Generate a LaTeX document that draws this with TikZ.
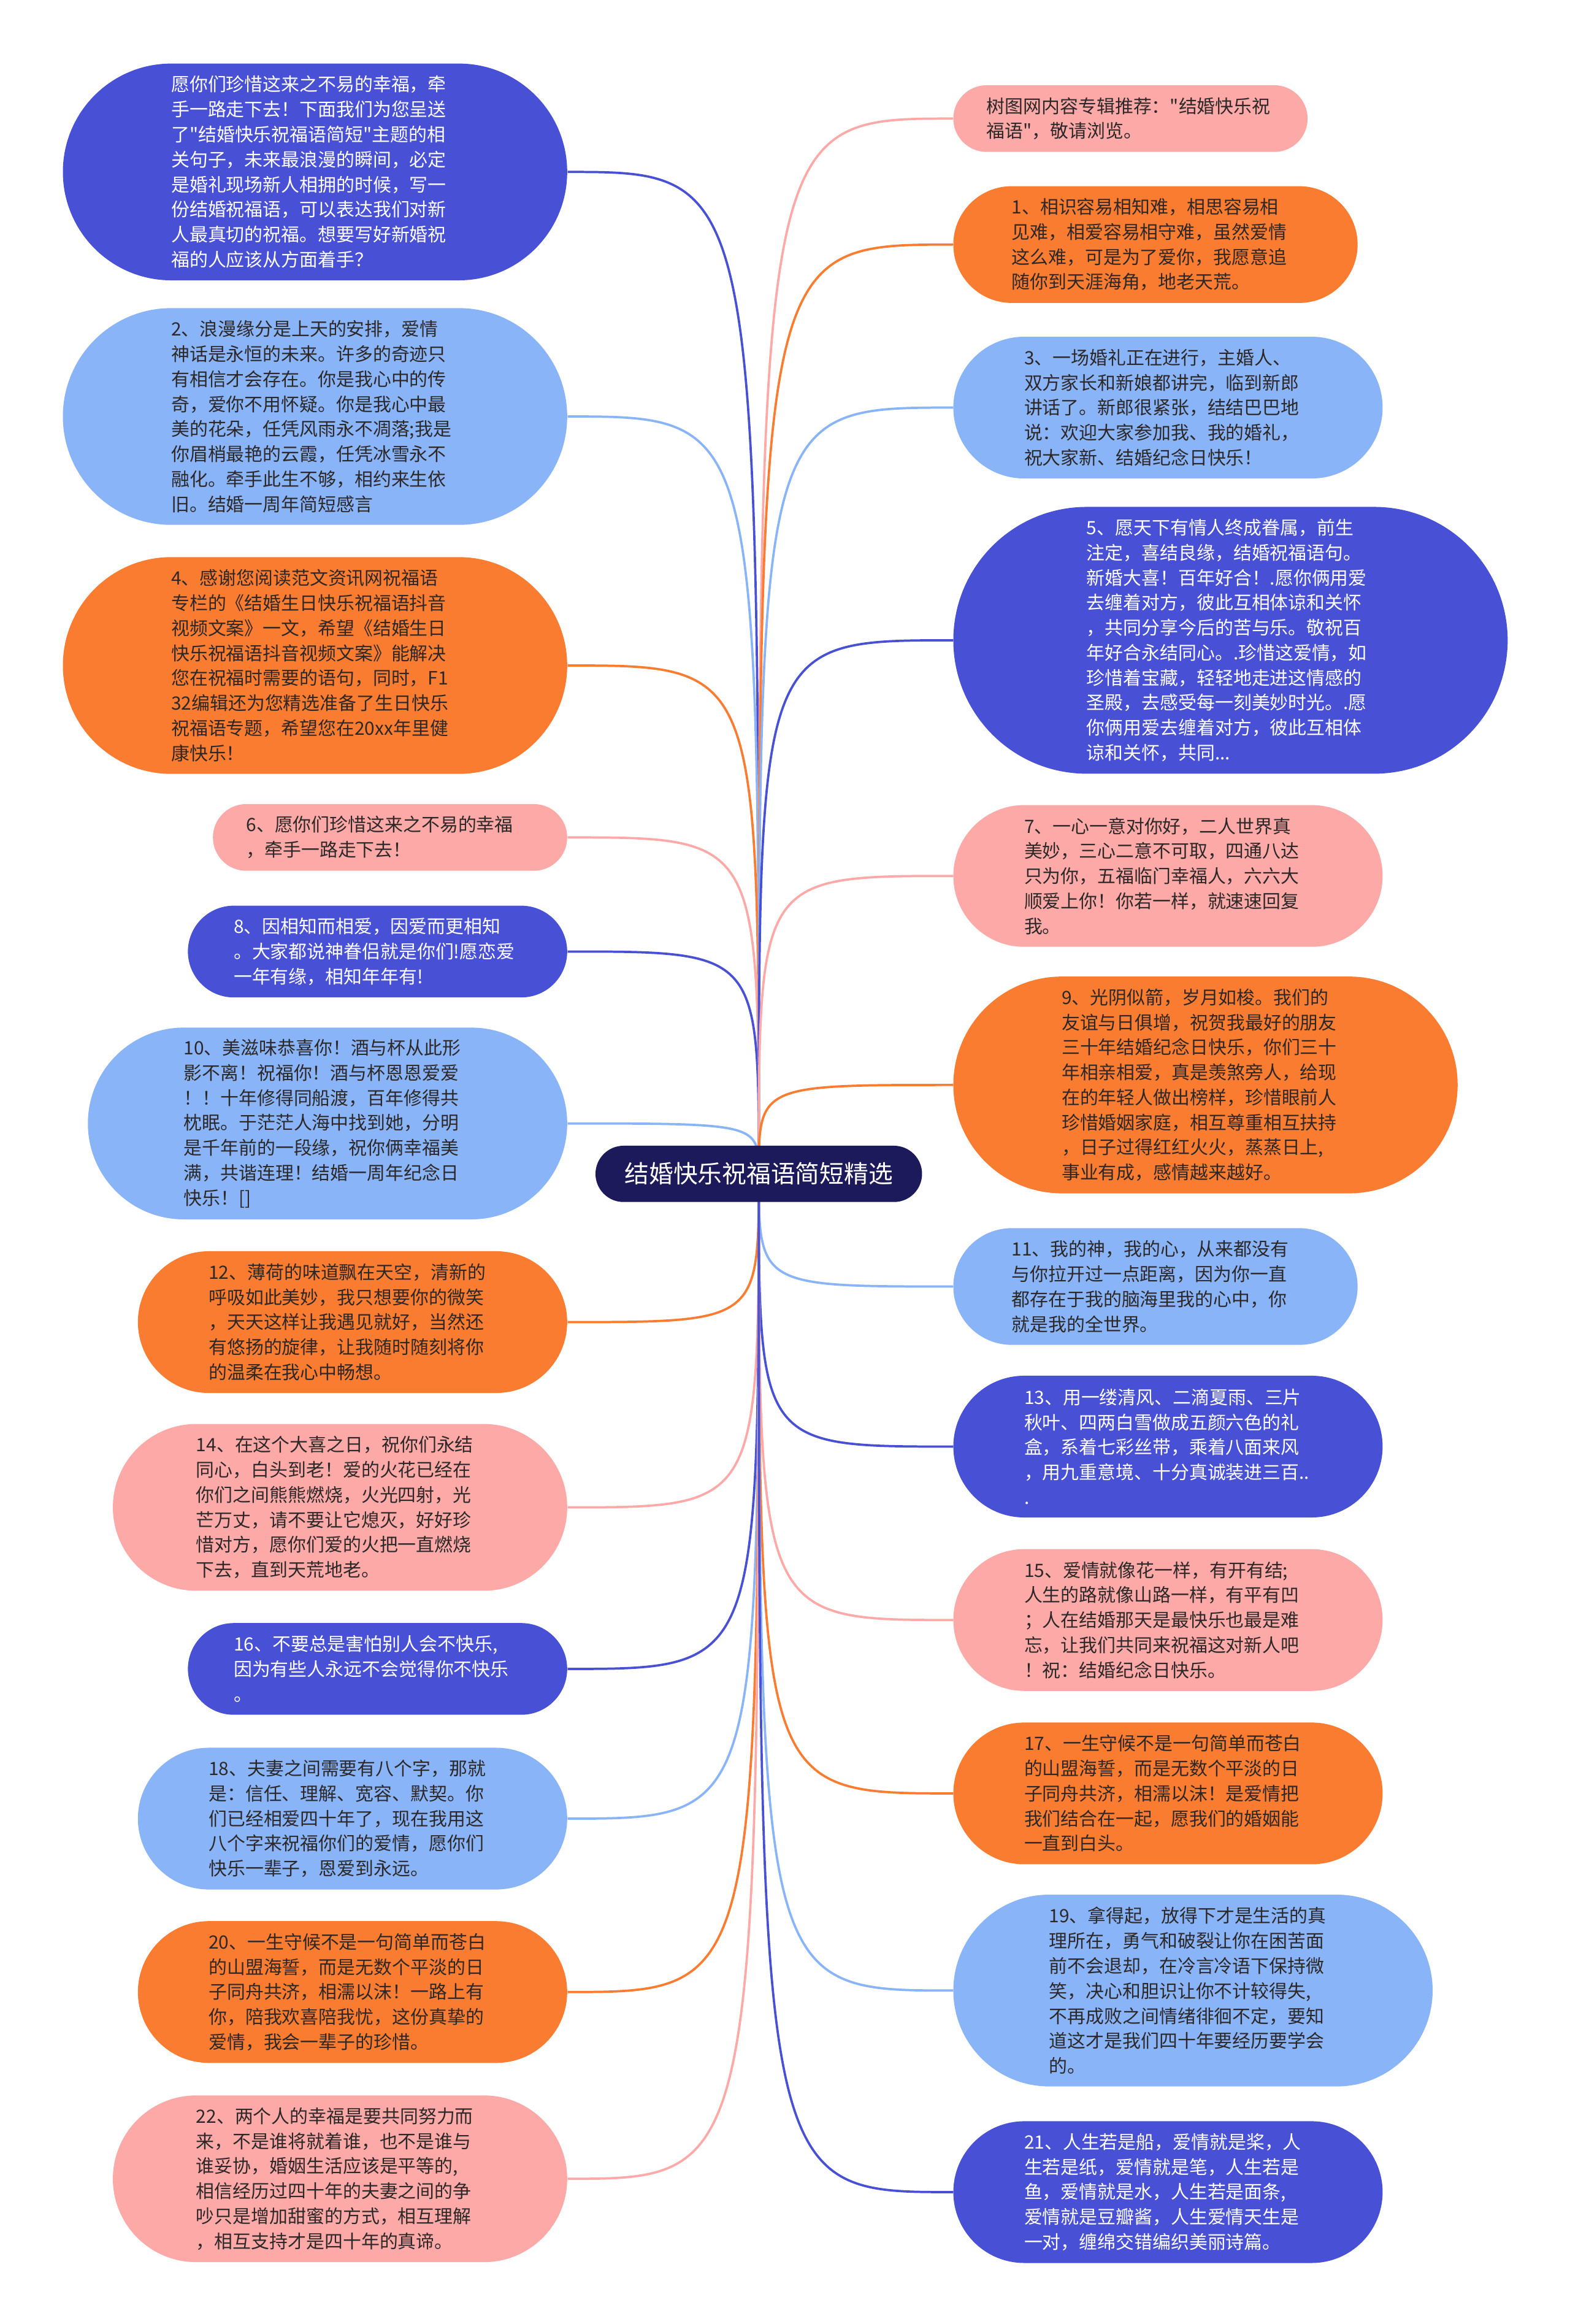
\documentclass[tikz,border=0pt]{standalone}
\usepackage{fontspec}
\setmainfont{Noto Sans CJK SC}[Ligatures=TeXOff]
\usetikzlibrary{backgrounds}

\definecolor{raizfondo}{RGB}{28,26,90}
\definecolor{azuloscuro}{RGB}{72,80,214}
\definecolor{azulclaro}{RGB}{138,180,248}
\definecolor{naranja}{RGB}{250,124,48}
\definecolor{rosa}{RGB}{252,169,168}
\definecolor{texto}{RGB}{45,40,40}

\begin{document}
\begin{tikzpicture}[x=0.025cm,y=-0.025cm,
		caja/.style={rectangle, text width=4.85cm, align=left,
			minimum height={(#1-1)*12pt+20pt}, inner ysep=0pt,
			inner xsep={(#1-1)*6pt+10pt}, rounded corners={(#1-1)*6pt+10pt},
			text=texto, font=\fontsize{8.8}{12}\selectfont},
		oscura/.style={caja=#1, fill=azuloscuro, text=white},
		clara/.style={caja=#1, fill=azulclaro},
		naranjada/.style={caja=#1, fill=naranja},
		rosada/.style={caja=#1, fill=rosa},
		rama/.style={line width=1.1pt}]
		
		% Nodo central
		\node[fill=raizfondo, text=white, minimum height=27pt, inner ysep=0pt,
			inner xsep=14pt, rounded corners=13.5pt,
			font=\fontsize{11.7}{14}\selectfont] (raiz) at (512,792) {结婚快乐祝福语简短精选};
		
		% Rama izquierda
		\node[oscura=8, anchor=east] (i1) at (383,116) {愿你们珍惜这来之不易的幸福，牵\\手一路走下去！下面我们为您呈送\\了"结婚快乐祝福语简短"主题的相\\关句子，未来最浪漫的瞬间，必定\\是婚礼现场新人相拥的时候，写一\\份结婚祝福语，可以表达我们对新\\人最真切的祝福。想要写好新婚祝\\福的人应该从方面着手？};
		\node[clara=8, anchor=east] (i2) at (383,281) {2、浪漫缘分是上天的安排，爱情\\神话是永恒的未来。许多的奇迹只\\有相信才会存在。你是我心中的传\\奇，爱你不用怀疑。你是我心中最\\美的花朵，任凭风雨永不凋落;我是\\你眉梢最艳的云霞，任凭冰雪永不\\融化。牵手此生不够，相约来生依\\旧。结婚一周年简短感言};
		\node[naranjada=8, anchor=east] (i3) at (383,449) {4、感谢您阅读范文资讯网祝福语\\专栏的《结婚生日快乐祝福语抖音\\视频文案》一文，希望《结婚生日\\快乐祝福语抖音视频文案》能解决\\您在祝福时需要的语句，同时，F1\\32编辑还为您精选准备了生日快乐\\祝福语专题，希望您在20xx年里健\\康快乐！};
		\node[rosada=2, anchor=east] (i4) at (383,565) {6、愿你们珍惜这来之不易的幸福\\，牵手一路走下去！};
		\node[oscura=3, anchor=east] (i5) at (383,642) {8、因相知而相爱，因爱而更相知\\。大家都说神眷侣就是你们!愿恋爱\\一年有缘，相知年年有!};
		\node[clara=7, anchor=east] (i6) at (383,758) {10、美滋味恭喜你！酒与杯从此形\\影不离！祝福你！酒与杯恩恩爱爱\\！！十年修得同船渡，百年修得共\\枕眠。于茫茫人海中找到她，分明\\是千年前的一段缘，祝你俩幸福美\\满，共谐连理！结婚一周年纪念日\\快乐！[]};
		\node[naranjada=5, anchor=east] (i7) at (383,892) {12、薄荷的味道飘在天空，清新的\\呼吸如此美妙，我只想要你的微笑\\，天天这样让我遇见就好，当然还\\有悠扬的旋律，让我随时随刻将你\\的温柔在我心中畅想。};
		\node[rosada=6, anchor=east] (i8) at (383,1017) {14、在这个大喜之日，祝你们永结\\同心，白头到老！爱的火花已经在\\你们之间熊熊燃烧，火光四射，光\\芒万丈，请不要让它熄灭，好好珍\\惜对方，愿你们爱的火把一直燃烧\\下去，直到天荒地老。};
		\node[oscura=3, anchor=east] (i9) at (383,1126) {16、不要总是害怕别人会不快乐,\\因为有些人永远不会觉得你不快乐\\。};
		\node[clara=5, anchor=east] (i10) at (383,1227) {18、夫妻之间需要有八个字，那就\\是：信任、理解、宽容、默契。你\\们已经相爱四十年了，现在我用这\\八个字来祝福你们的爱情，愿你们\\快乐一辈子，恩爱到永远。};
		\node[naranjada=5, anchor=east] (i11) at (383,1344) {20、一生守候不是一句简单而苍白\\的山盟海誓，而是无数个平淡的日\\子同舟共济，相濡以沫！一路上有\\你，陪我欢喜陪我忧，这份真挚的\\爱情，我会一辈子的珍惜。};
		\node[rosada=6, anchor=east] (i12) at (383,1470) {22、两个人的幸福是要共同努力而\\来，不是谁将就着谁，也不是谁与\\谁妥协，婚姻生活应该是平等的,\\相信经历过四十年的夫妻之间的争\\吵只是增加甜蜜的方式，相互理解\\，相互支持才是四十年的真谛。};
		
		% Rama derecha
		\node[rosada=2, anchor=west] (d1) at (643,80) {树图网内容专辑推荐："结婚快乐祝\\福语"，敬请浏览。};
		\node[naranjada=4, anchor=west] (d2) at (643,165) {1、相识容易相知难，相思容易相\\见难，相爱容易相守难，虽然爱情\\这么难，可是为了爱你，我愿意追\\随你到天涯海角，地老天荒。};
		\node[clara=5, anchor=west] (d3) at (643,275) {3、一场婚礼正在进行，主婚人、\\双方家长和新娘都讲完，临到新郎\\讲话了。新郎很紧张，结结巴巴地\\说：欢迎大家参加我、我的婚礼，\\祝大家新、结婚纪念日快乐！};
		\node[oscura=10, anchor=west] (d4) at (643,432) {5、愿天下有情人终成眷属，前生\\注定，喜结良缘，结婚祝福语句。\\新婚大喜！百年好合！.愿你俩用爱\\去缠着对方，彼此互相体谅和关怀\\，共同分享今后的苦与乐。敬祝百\\年好合永结同心。.珍惜这爱情，如\\珍惜着宝藏，轻轻地走进这情感的\\圣殿，去感受每一刻美妙时光。.愿\\你俩用爱去缠着对方，彼此互相体\\谅和关怀，共同...};
		\node[rosada=5, anchor=west] (d5) at (643,591) {7、一心一意对你好，二人世界真\\美妙，三心二意不可取，四通八达\\只为你，五福临门幸福人，六六大\\顺爱上你！你若一样，就速速回复\\我。};
		\node[naranjada=8, anchor=west] (d6) at (643,732) {9、光阴似箭，岁月如梭。我们的\\友谊与日俱增，祝贺我最好的朋友\\三十年结婚纪念日快乐，你们三十\\年相亲相爱，真是羡煞旁人，给现\\在的年轻人做出榜样，珍惜眼前人\\珍惜婚姻家庭，相互尊重相互扶持\\，日子过得红红火火，蒸蒸日上,\\事业有成，感情越来越好。};
		\node[clara=4, anchor=west] (d7) at (643,868) {11、我的神，我的心，从来都没有\\与你拉开过一点距离，因为你一直\\都存在于我的脑海里我的心中，你\\就是我的全世界。};
		\node[oscura=5, anchor=west] (d8) at (643,976) {13、用一缕清风、二滴夏雨、三片\\秋叶、四两白雪做成五颜六色的礼\\盒，系着七彩丝带，乘着八面来风\\，用九重意境、十分真诚装进三百..\\.};
		\node[rosada=5, anchor=west] (d9) at (643,1093) {15、爱情就像花一样，有开有结;\\人生的路就像山路一样，有平有凹\\；人在结婚那天是最快乐也最是难\\忘，让我们共同来祝福这对新人吧\\！祝：结婚纪念日快乐。};
		\node[naranjada=5, anchor=west] (d10) at (643,1210) {17、一生守候不是一句简单而苍白\\的山盟海誓，而是无数个平淡的日\\子同舟共济，相濡以沫！是爱情把\\我们结合在一起，愿我们的婚姻能\\一直到白头。};
		\node[clara=7, anchor=west] (d11) at (643,1343) {19、拿得起，放得下才是生活的真\\理所在，勇气和破裂让你在困苦面\\前不会退却，在冷言冷语下保持微\\笑，决心和胆识让你不计较得失,\\不再成败之间情绪徘徊不定，要知\\道这才是我们四十年要经历要学会\\的。};
		\node[oscura=5, anchor=west] (d12) at (643,1479) {21、人生若是船，爱情就是桨，人\\生若是纸，爱情就是笔，人生若是\\鱼，爱情就是水，人生若是面条,\\爱情就是豆瓣酱，人生爱情天生是\\一对，缠绵交错编织美丽诗篇。};
		
		% Fondo y conectores
		\begin{pgfonlayer}{background}
			\fill[white] (0,0) rectangle (1059,1568);
			\draw[rama, azuloscuro] (raiz.center) .. controls (raiz.center |- i1.east) .. (i1.east);
			\draw[rama, azulclaro] (raiz.center) .. controls (raiz.center |- i2.east) .. (i2.east);
			\draw[rama, naranja] (raiz.center) .. controls (raiz.center |- i3.east) .. (i3.east);
			\draw[rama, rosa] (raiz.center) .. controls (raiz.center |- i4.east) .. (i4.east);
			\draw[rama, azuloscuro] (raiz.center) .. controls (raiz.center |- i5.east) .. (i5.east);
			\draw[rama, azulclaro] (raiz.center) .. controls (raiz.center |- i6.east) .. (i6.east);
			\draw[rama, naranja] (raiz.center) .. controls (raiz.center |- i7.east) .. (i7.east);
			\draw[rama, rosa] (raiz.center) .. controls (raiz.center |- i8.east) .. (i8.east);
			\draw[rama, azuloscuro] (raiz.center) .. controls (raiz.center |- i9.east) .. (i9.east);
			\draw[rama, azulclaro] (raiz.center) .. controls (raiz.center |- i10.east) .. (i10.east);
			\draw[rama, naranja] (raiz.center) .. controls (raiz.center |- i11.east) .. (i11.east);
			\draw[rama, rosa] (raiz.center) .. controls (raiz.center |- i12.east) .. (i12.east);
			\draw[rama, rosa] (raiz.center) .. controls (raiz.center |- d1.west) .. (d1.west);
			\draw[rama, naranja] (raiz.center) .. controls (raiz.center |- d2.west) .. (d2.west);
			\draw[rama, azulclaro] (raiz.center) .. controls (raiz.center |- d3.west) .. (d3.west);
			\draw[rama, azuloscuro] (raiz.center) .. controls (raiz.center |- d4.west) .. (d4.west);
			\draw[rama, rosa] (raiz.center) .. controls (raiz.center |- d5.west) .. (d5.west);
			\draw[rama, naranja] (raiz.center) .. controls (raiz.center |- d6.west) .. (d6.west);
			\draw[rama, azulclaro] (raiz.center) .. controls (raiz.center |- d7.west) .. (d7.west);
			\draw[rama, azuloscuro] (raiz.center) .. controls (raiz.center |- d8.west) .. (d8.west);
			\draw[rama, rosa] (raiz.center) .. controls (raiz.center |- d9.west) .. (d9.west);
			\draw[rama, naranja] (raiz.center) .. controls (raiz.center |- d10.west) .. (d10.west);
			\draw[rama, azulclaro] (raiz.center) .. controls (raiz.center |- d11.west) .. (d11.west);
			\draw[rama, azuloscuro] (raiz.center) .. controls (raiz.center |- d12.west) .. (d12.west);
		\end{pgfonlayer}
		\useasboundingbox (0,0) rectangle (1059,1568);
		
	\end{tikzpicture}
\end{document}
